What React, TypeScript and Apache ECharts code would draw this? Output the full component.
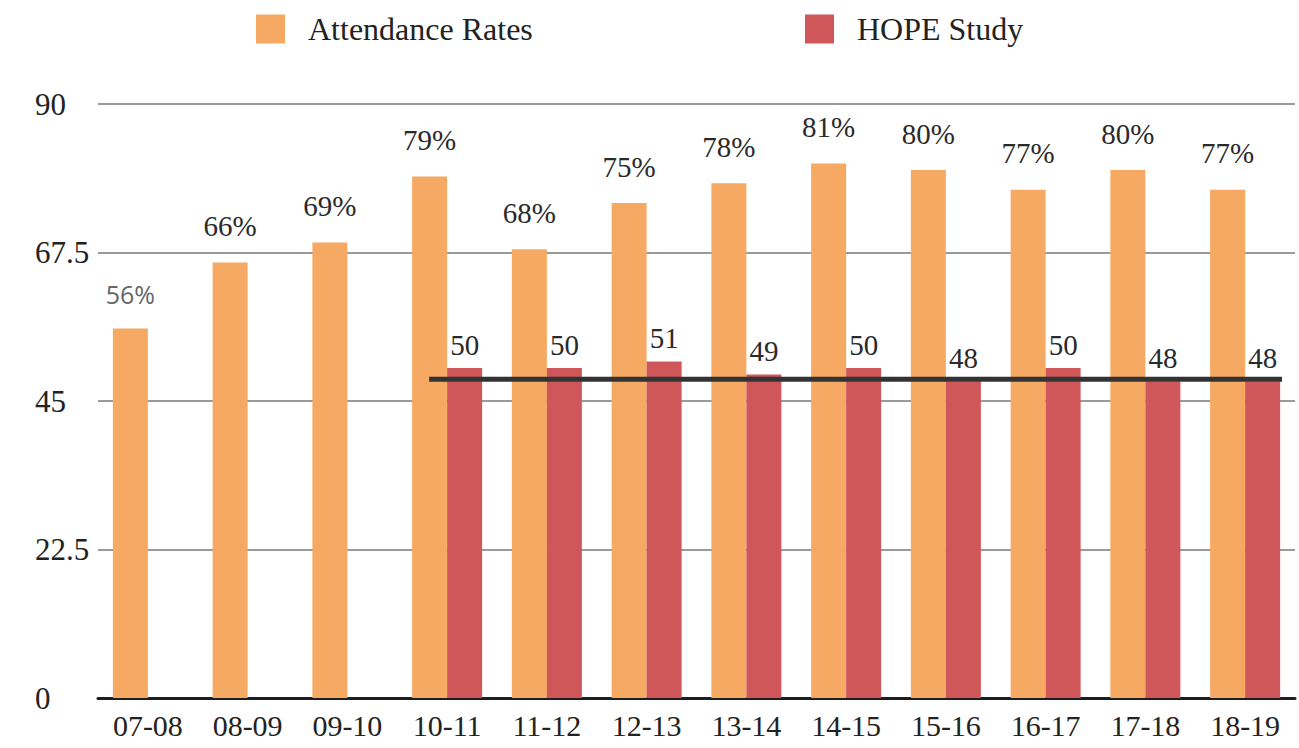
import React, { useEffect, useRef } from "react";
import * as echarts from "echarts";

const categories = ["07-08", "08-09", "09-10", "10-11", "11-12", "12-13", "13-14", "14-15", "15-16", "16-17", "17-18", "18-19"];
const attendance = [56, 66, 69, 79, 68, 75, 78, 81, 80, 77, 80, 77];
const hope = [null, null, null, 50, 50, 51, 49, 50, 48, 50, 48, 48];
const yTicks = [0, 22.5, 45, 67.5, 90];
// hand-drawn trend line across the HOPE Study years: [x position in category units, value]
const trendLine = [[3.32, 48.3], [11.87, 48.3]];

const FONT = "Liberation Serif";
const ORANGE = "#F6A963";
const RED = "#CF575A";

export default function App() {
  const ref = useRef<HTMLDivElement>(null);
  useEffect(() => {
    if (!ref.current) return;
    const chart = echarts.init(ref.current, null, { renderer: "svg" });
    chart.setOption({
      animation: false,
      backgroundColor: "#ffffff",
      textStyle: { fontFamily: FONT },
      legend: [
        {
          data: ["Attendance Rates"],
          left: 251,
          top: 8,
          itemWidth: 29,
          itemHeight: 29,
          icon: "rect",
          textStyle: { fontFamily: FONT, fontSize: 32, color: "#222", padding: [0, 0, 0, 18] },
        },
        {
          data: ["HOPE Study"],
          left: 800,
          top: 8,
          itemWidth: 29,
          itemHeight: 29,
          icon: "rect",
          textStyle: { fontFamily: FONT, fontSize: 32, color: "#222", padding: [0, 0, 0, 18] },
        },
      ],
      grid: { left: 98, right: 4, top: 104, bottom: 50, containLabel: false },
      xAxis: [
        {
          type: "category",
          data: categories,
          axisLine: { show: true, lineStyle: { color: "#1e1e1e", width: 3 } },
          axisTick: { show: false },
          axisLabel: { fontFamily: FONT, fontSize: 30, color: "#222", margin: 12 },
        },
        {
          type: "value",
          min: 0,
          max: categories.length,
          show: false,
        },
      ],
      yAxis: {
        type: "value",
        min: 0,
        max: 90,
        interval: 22.5,
        axisLine: { show: false },
        axisTick: { show: false },
        splitLine: { lineStyle: { color: "#9a9a9a", width: 2 } },
        axisLabel: {
          fontFamily: FONT,
          fontSize: 31,
          color: "#222",
          align: "left",
          margin: 63,
          formatter: (v: number) => (yTicks.includes(v) ? String(v) : ""),
        },
      },
      series: [
        {
          name: "Attendance Rates",
          type: "bar",
          data: attendance.map((v, i) =>
            i === 0
              ? { value: v, label: { color: "#666", fontFamily: "Open Sans", fontSize: 25 } }
              : v
          ),
          barWidth: 35,
          barGap: "0%",
          itemStyle: { color: ORANGE },
          label: {
            show: true,
            position: "top",
            distance: 22,
            formatter: "{c}%",
            fontFamily: FONT,
            fontSize: 29,
            color: "#2a2a2a",
          },
        },
        {
          name: "HOPE Study",
          type: "bar",
          data: hope,
          barWidth: 35,
          barGap: "0%",
          itemStyle: { color: RED },
          label: {
            show: true,
            position: "top",
            distance: 9,
            fontFamily: FONT,
            fontSize: 29,
            color: "#2a2a2a",
          },
        },
        {
          name: "trend",
          type: "line",
          xAxisIndex: 1,
          data: trendLine,
          symbol: "none",
          silent: true,
          lineStyle: { color: "#333", width: 5 },
          z: 5,
        },
      ],
    });
    return () => chart.dispose();
  }, []);
  return (
    <div
      ref={ref}
      style={{ position: "fixed", left: 0, top: 0, width: 1299, height: 748, background: "#fff" }}
    />
  );
}
